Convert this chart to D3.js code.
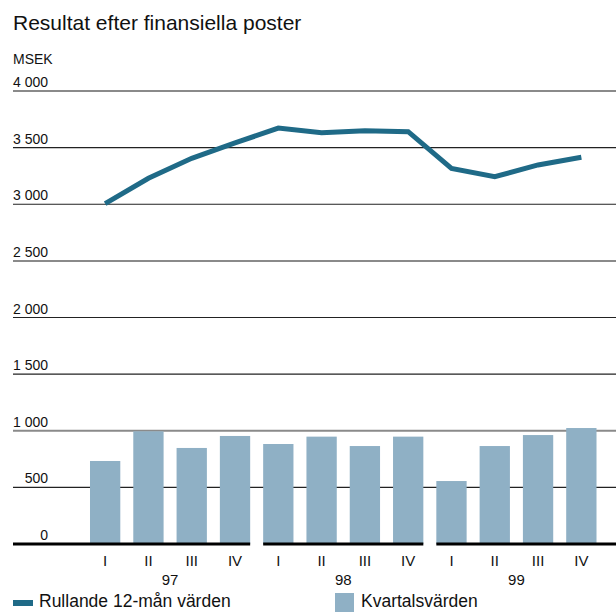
<!DOCTYPE html>
<html>
<head>
<meta charset="utf-8">
<script src="https://cdn.jsdelivr.net/npm/d3@7"></script>
<style>
  body { margin: 0; background: #fff; }
  text { font-family: "Liberation Sans", Arial, sans-serif; fill: #111; }
</style>
</head>
<body>
<svg id="chart" width="616" height="612"></svg>
<script>
// data
var years = ["97", "98", "99"];
var quarters = ["I", "II", "III", "IV"];
var kvartal = [733, 995, 848, 954, 883, 948, 865, 948, 556, 865, 962, 1024];
var rullande = [3005, 3229, 3406, 3541, 3673, 3632, 3650, 3641, 3317, 3243, 3347, 3415];
var yTicks = [0, 500, 1000, 1500, 2000, 2500, 3000, 3500, 4000];
var greyTicks = [1000, 2500, 4000];

var lineColor = "#1f6a87";
var barColor = "#8fb0c5";

var svg = d3.select("#chart");
var left = 13, right = 616;

// one entry per quarter
var slots = [];
years.forEach(function(y, yi) {
  quarters.forEach(function(q, qi) {
    slots.push({ id: y + q, year: y, yi: yi, q: q, i: yi * 4 + qi });
  });
});

var x = d3.scaleBand()
  .domain(slots.map(function(d) { return d.id; }))
  .range([83.5, 603])
  .paddingInner(0.3)
  .paddingOuter(0.15);

var y = d3.scaleLinear().domain([0, 4000]).range([544, 91]);

// title
svg.append("text").attr("x", 13).attr("y", 30)
  .attr("font-size", "21px").text("Resultat efter finansiella poster");
svg.append("text").attr("x", 13).attr("y", 64)
  .attr("font-size", "14px").text("MSEK");

// grid lines + labels
var fmt = function(v) { return d3.format(",")(v).replace(/,/g, " "); };
yTicks.forEach(function(t) {
  if (t > 0) {
    var grey = greyTicks.indexOf(t) >= 0;
    svg.append("line")
      .attr("x1", left).attr("x2", right)
      .attr("y1", y(t)).attr("y2", y(t))
      .attr("stroke", grey ? "#8a8a8a" : "#222")
      .attr("stroke-width", grey ? 2 : 1.2);
  }
  svg.append("text")
    .attr("x", 48).attr("y", y(t) - 4)
    .attr("text-anchor", "end")
    .attr("font-size", "14px")
    .text(fmt(t));
});

// bars
svg.selectAll("rect.bar")
  .data(slots)
  .enter()
  .append("rect")
  .attr("class", "bar")
  .attr("x", function(d) { return x(d.id); })
  .attr("width", x.bandwidth())
  .attr("y", function(d) { return y(kvartal[d.i]); })
  .attr("height", function(d) { return y(0) - y(kvartal[d.i]); })
  .attr("fill", barColor);

// baseline, broken per year
years.forEach(function(yr, yi) {
  var first = x(yr + "I"), last = x(yr + "IV") + x.bandwidth();
  var x1 = yi == 0 ? left : first;
  var x2 = yi == years.length - 1 ? right : last;
  svg.append("line")
    .attr("x1", x1).attr("x2", x2)
    .attr("y1", y(0)).attr("y2", y(0))
    .attr("stroke", "#000").attr("stroke-width", 3);
});

// rolling 12 month line
var line = d3.line()
  .x(function(d) { return x(d.id) + x.bandwidth() / 2; })
  .y(function(d) { return y(rullande[d.i]); });
svg.append("path")
  .datum(slots)
  .attr("d", line)
  .attr("fill", "none")
  .attr("stroke", lineColor)
  .attr("stroke-width", 5);

// quarter + year labels
svg.selectAll("text.q")
  .data(slots)
  .enter()
  .append("text")
  .attr("class", "q")
  .attr("x", function(d) { return x(d.id) + x.bandwidth() / 2; })
  .attr("y", 566)
  .attr("text-anchor", "middle")
  .attr("font-size", "15px")
  .text(function(d) { return d.q; });

years.forEach(function(yr) {
  var cx = (x(yr + "II") + x(yr + "III") + x.bandwidth()) / 2;
  svg.append("text")
    .attr("x", cx).attr("y", 585)
    .attr("text-anchor", "middle")
    .attr("font-size", "15px")
    .text(yr);
});

// legend
svg.append("rect").attr("x", 13).attr("y", 600).attr("width", 20).attr("height", 6)
  .attr("fill", lineColor);
svg.append("text").attr("x", 39).attr("y", 607)
  .attr("font-size", "17.5px").text("Rullande 12-mån värden");
svg.append("rect").attr("x", 335).attr("y", 593).attr("width", 19).attr("height", 19)
  .attr("fill", barColor);
svg.append("text").attr("x", 361).attr("y", 607)
  .attr("font-size", "17.5px").text("Kvartalsvärden");
</script>
</body>
</html>
